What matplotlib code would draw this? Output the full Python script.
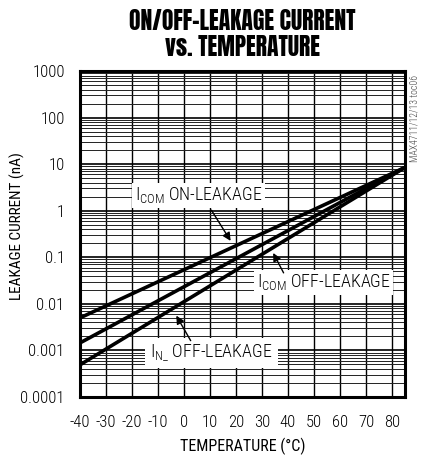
import matplotlib
matplotlib.use("Agg")
import matplotlib.pyplot as plt
from matplotlib import font_manager as fm
import numpy as np

# ---- data ----
temperature = [-40, 85]
icom_on = [0.005, 8.5]
icom_off = [0.00145, 8.5]
in_off = [0.00049, 8.5]

x_ticks = [-40, -30, -20, -10, 0, 10, 20, 30, 40, 50, 60, 70, 80]
y_ticks = [0.0001, 0.001, 0.01, 0.1, 1, 10, 100, 1000]
y_tick_labels = ["0.0001", "0.001", "0.01", "0.1", "1", "10", "100", "1000"]

title = "ON/OFF-LEAKAGE CURRENT\nvs. TEMPERATURE"
xlabel = "TEMPERATURE (°C)"
ylabel = "LEAKAGE CURRENT (nA)"
side_note = "MAX4711/12/13 toc06"

names = {f.name for f in fm.fontManager.ttflist}
def pick(prefs):
    for p in prefs:
        if p in names:
            return p
    return "DejaVu Sans"

narrow = pick(["Roboto Condensed", "Archivo Narrow", "PT Sans Narrow",
               "Liberation Sans Narrow", "Open Sans Condensed", "Pragati Narrow"])
title_font = pick(["Anton", "Roboto Condensed", "Archivo Narrow"])

plt.rcParams["font.family"] = [narrow, "DejaVu Sans"]
plt.rcParams["font.weight"] = "light"
plt.rcParams["mathtext.fontset"] = "custom"
plt.rcParams["mathtext.rm"] = narrow + ":light"
plt.rcParams["mathtext.it"] = narrow + ":light"

fig = plt.figure(figsize=(4.25, 4.55), dpi=100)
ax = fig.add_axes([80/425, 58/455, 325/425, 326/455])

ax.set_yscale("log")
ax.set_xlim(-40, 85)
ax.set_ylim(1e-4, 1e3)

# grid
for x in x_ticks:
    ax.axvline(x, color="black", lw=1.0, zorder=1)
for dec in range(-4, 3):
    base = 10.0 ** dec
    for m in range(2, 10):
        ax.axhline(m * base, color="#222222", lw=0.7, zorder=1)
for yv in y_ticks:
    ax.axhline(yv, color="black", lw=1.2, zorder=1)

for ys in (icom_on, icom_off, in_off):
    ax.plot(temperature, ys, color="black", lw=2.6, zorder=3, solid_capstyle="butt")

ax.set_xticks(x_ticks)
ax.set_xticklabels([str(v) for v in x_ticks], fontsize=12)
ax.set_yticks(y_ticks)
ax.set_yticklabels(y_tick_labels, fontsize=12)
ax.minorticks_off()
ax.tick_params(axis="y", length=0, pad=11)
ax.tick_params(axis="x", length=0, pad=13)
for s in ax.spines.values():
    s.set_linewidth(2.2)
    s.set_zorder(5)

ax.set_xlabel(xlabel, fontsize=11.5)
ax.set_ylabel(ylabel, fontsize=11)
ax.xaxis.set_label_coords(0.5, -0.125)
ax.yaxis.set_label_coords(-0.169, 0.525)

bbox = dict(facecolor="white", edgecolor="none", pad=2)
ax.text(-19.0, 2.15, r"I$_{\mathrm{COM}}$ ON-LEAKAGE", fontsize=13, ha="left",
        va="center", bbox=bbox, zorder=4)
ax.text(28.0, 0.029, r"I$_{\mathrm{COM}}$ OFF-LEAKAGE", fontsize=13, ha="left",
        va="center", bbox=bbox, zorder=4)
ax.text(-13.0, 0.00088, r"I$_{\mathrm{N\_}}$ OFF-LEAKAGE", fontsize=13, ha="left",
        va="center", bbox=dict(facecolor="white", edgecolor="none", pad=3.5), zorder=4)

arrow = dict(arrowstyle="-|>", color="black", lw=1.0, mutation_scale=12)
ax.annotate("", xy=(18.5, 0.2), xytext=(10.0, 1.15), arrowprops=arrow, zorder=4)
ax.annotate("", xy=(33.8, 0.14), xytext=(38.8, 0.041), arrowprops=arrow, zorder=4)
ax.annotate("", xy=(-3.5, 0.0063), xytext=(3.1, 0.00144), arrowprops=arrow, zorder=4)

fig.text(242/425, 1 - 34/455, title, ha="center", va="center", fontsize=17,
         fontweight="bold", linespacing=1.05, family=[title_font, "DejaVu Sans"])
fig.text(415/425, 1 - 118/455, side_note, rotation=90, ha="center", va="center",
         fontsize=7, color="#444444")

fig.savefig("out.png", dpi=100)
